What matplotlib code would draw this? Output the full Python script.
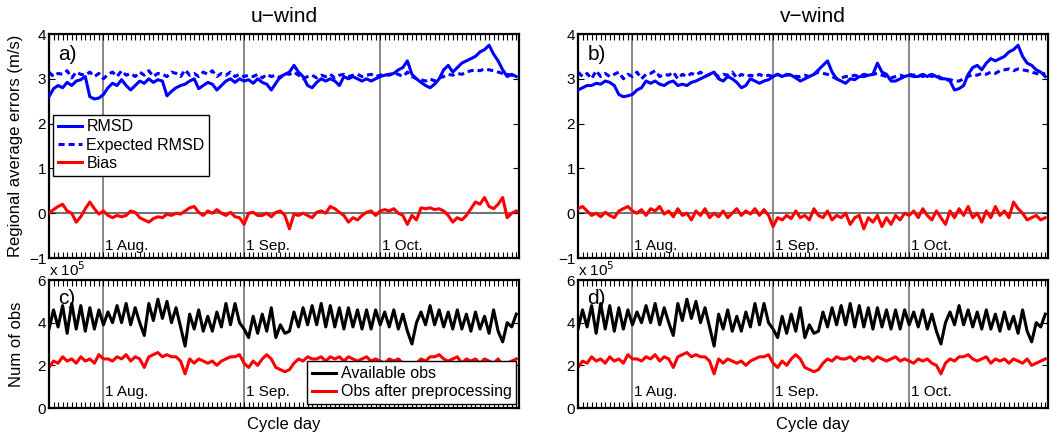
import numpy as np
import matplotlib
matplotlib.use('Agg')
import matplotlib.pyplot as plt
from matplotlib.ticker import MultipleLocator, NullLocator

plt.rcParams['font.family'] = ['Liberation Sans', 'DejaVu Sans']

# days since 20 Jul (one value per cycle day)
days = np.arange(104)
month_days = [12, 43, 73]
month_labels = ['1 Aug.', '1 Sep.', '1 Oct.']

# u-wind errors (m/s)
rmsd_u = [2.60, 2.78, 2.85, 2.80, 2.92, 2.85, 2.95, 2.98, 3.05, 2.60,
          2.55, 2.57, 2.65, 2.80, 2.90, 2.85, 2.98, 2.85, 2.75, 2.85,
          2.95, 2.90, 3.00, 2.92, 2.98, 2.95, 2.62, 2.72, 2.80, 2.85,
          2.88, 2.95, 3.00, 2.78, 2.85, 2.92, 2.88, 2.75, 2.85, 2.95,
          3.00, 2.92, 3.00, 2.95, 2.98, 2.90, 3.00, 2.92, 2.88, 2.75,
          2.90, 3.05, 3.10, 3.15, 3.30, 3.15, 3.05, 2.85, 2.80, 2.92,
          3.00, 2.95, 3.00, 2.95, 2.85, 3.05, 3.00, 3.05, 3.00, 2.95,
          3.00, 2.95, 3.00, 3.05, 3.08, 3.10, 3.12, 3.20, 3.25, 3.40,
          3.10, 3.00, 2.92, 2.85, 2.80, 2.88, 3.00, 3.20, 3.30, 3.15,
          3.25, 3.35, 3.40, 3.45, 3.50, 3.60, 3.65, 3.75, 3.55, 3.40,
          3.20, 3.05, 3.10, 3.05]
exp_rmsd_u = [3.15, 3.05, 3.12, 3.10, 3.18, 3.02, 3.15, 3.10, 3.08, 3.15,
              3.05, 3.12, 3.00, 3.10, 3.15, 3.05, 3.18, 3.08, 3.12, 3.05,
              3.15, 3.08, 3.18, 3.05, 3.12, 3.10, 3.05, 3.15, 3.12, 3.05,
              3.20, 3.08, 3.12, 3.05, 3.15, 3.10, 3.18, 3.05, 3.12, 3.08,
              3.15, 3.05, 3.10, 3.05, 3.08, 3.05, 3.10, 3.02, 3.10, 3.05,
              3.08, 3.02, 3.12, 3.10, 3.15, 3.08, 3.00, 3.05, 3.08, 3.02,
              3.08, 3.05, 3.10, 3.02, 3.08, 3.10, 3.05, 3.08, 3.10, 3.05,
              3.08, 3.10, 3.05, 3.08, 3.10, 3.08, 3.12, 3.10, 3.05, 3.15,
              3.05, 3.00, 2.98, 2.95, 3.00, 2.95, 3.02, 3.05, 3.10, 3.08,
              3.12, 3.10, 3.15, 3.18, 3.20, 3.18, 3.22, 3.20, 3.18, 3.15,
              3.12, 3.10, 3.08, 3.10]
bias_u = [0.00, 0.08, 0.15, 0.20, 0.05, 0.00, -0.20, -0.08, 0.10, 0.25,
          0.10, -0.02, 0.05, -0.05, -0.10, -0.05, -0.08, -0.05, 0.05, 0.02,
          -0.10, -0.15, -0.20, -0.12, -0.08, -0.10, -0.02, -0.05, 0.00, -0.02,
          0.05, 0.12, 0.15, 0.02, -0.05, 0.05, 0.00, 0.08, 0.00, -0.05,
          0.02, -0.08, -0.10, -0.25, 0.00, 0.02, -0.05, -0.05, 0.00, -0.08,
          0.02, 0.05, -0.05, -0.35, -0.02, -0.05, 0.00, -0.05, -0.10, 0.02,
          0.05, 0.00, 0.15, 0.10, 0.02, -0.05, -0.20, -0.10, -0.15, -0.05,
          0.02, 0.05, -0.05, 0.05, 0.08, 0.05, 0.10, 0.00, -0.05, -0.25,
          -0.05, -0.15, 0.12, 0.10, 0.12, 0.08, 0.10, 0.05, -0.05, -0.20,
          -0.10, -0.15, -0.05, 0.10, 0.25, 0.20, 0.35, 0.15, 0.10, 0.20,
          0.35, -0.10, 0.00, 0.05]

# v-wind errors (m/s)
rmsd_v = [2.75, 2.80, 2.85, 2.85, 2.90, 2.88, 2.95, 2.92, 2.85, 2.65,
          2.60, 2.62, 2.65, 2.75, 2.80, 2.95, 2.90, 2.95, 2.88, 2.85,
          2.92, 2.95, 2.85, 2.88, 2.85, 2.92, 2.95, 3.00, 3.05, 3.10,
          3.15, 3.00, 2.95, 3.05, 3.00, 2.92, 2.80, 2.85, 3.00, 2.95,
          2.90, 2.95, 2.98, 3.05, 3.10, 3.05, 3.10, 3.08, 3.02, 2.95,
          3.00, 3.05, 3.10, 3.20, 3.30, 3.40, 3.15, 3.00, 2.95, 2.90,
          3.00, 2.98, 3.05, 3.05, 3.08, 3.10, 3.35, 3.15, 3.10, 2.95,
          2.95, 3.00, 3.05, 3.08, 3.05, 3.05, 3.10, 3.05, 3.10, 3.05,
          3.00, 3.00, 2.95, 2.75, 2.78, 2.85, 3.10, 3.25, 3.30, 3.20,
          3.35, 3.45, 3.40, 3.45, 3.50, 3.60, 3.65, 3.75, 3.50, 3.35,
          3.30, 3.20, 3.15, 3.05]
exp_rmsd_v = [3.15, 3.05, 3.12, 3.00, 3.18, 3.05, 3.12, 3.05, 3.10, 3.15,
              3.00, 3.10, 3.05, 3.15, 3.00, 3.10, 3.12, 3.18, 3.05, 3.10,
              3.08, 3.15, 3.00, 3.10, 3.05, 3.12, 3.08, 3.15, 3.05, 3.10,
              3.12, 3.05, 3.10, 3.08, 3.15, 3.02, 3.10, 3.05, 3.08, 3.05,
              3.10, 3.05, 3.08, 3.05, 3.10, 3.05, 3.08, 3.10, 3.05, 3.05,
              3.08, 3.05, 3.10, 3.15, 3.12, 3.10, 3.05, 3.00, 3.02, 3.05,
              3.05, 3.08, 3.05, 3.10, 3.08, 3.10, 3.12, 3.08, 3.05, 3.02,
              3.05, 3.08, 3.05, 3.10, 3.08, 3.10, 3.05, 3.10, 3.05, 3.08,
              3.02, 3.00, 2.98, 2.95, 2.95, 3.00, 3.05, 3.10, 3.08, 3.12,
              3.10, 3.15, 3.12, 3.18, 3.20, 3.22, 3.18, 3.22, 3.20, 3.18,
              3.15, 3.12, 3.10, 3.12]
bias_v = [0.10, 0.15, 0.05, -0.05, 0.00, -0.08, 0.02, -0.05, -0.10, 0.05,
          0.10, 0.15, 0.05, 0.00, 0.08, -0.05, 0.10, 0.05, 0.15, -0.02,
          0.05, -0.08, 0.10, -0.05, 0.00, -0.15, 0.05, -0.05, 0.10, -0.10,
          0.00, -0.08, 0.05, -0.10, 0.00, 0.10, -0.05, 0.05, -0.02, 0.10,
          -0.05, 0.08, -0.05, -0.30, -0.10, -0.15, -0.05, -0.12, 0.05, -0.10,
          -0.05, -0.15, 0.10, -0.05, -0.10, 0.05, -0.15, -0.05, -0.10, 0.00,
          -0.25, -0.10, -0.05, -0.35, -0.10, -0.20, -0.05, -0.30, -0.10, -0.25,
          -0.05, -0.15, 0.00, -0.05, 0.05, -0.10, 0.10, -0.05, -0.15, 0.05,
          -0.10, -0.25, 0.05, -0.10, 0.10, -0.05, 0.15, -0.10, 0.00, -0.20,
          0.05, -0.10, 0.15, -0.05, 0.05, -0.10, 0.25, 0.10, 0.00, -0.15,
          -0.10, -0.05, -0.15, -0.10]

# number of observations, x 10^5
obs_avail = [3.7, 4.6, 3.8, 4.8, 3.5, 4.9, 3.7, 4.8, 3.6, 4.7, 3.7, 4.6,
             3.9, 4.5, 4.0, 4.8, 4.0, 4.9, 3.9, 4.7,
             4.0, 3.4, 4.9, 4.1, 5.1, 4.2, 5.0, 4.0, 4.7, 3.8,
             2.9, 4.4, 3.7, 4.6, 3.6, 4.3, 3.6, 4.5, 3.8, 4.9, 3.9, 4.9, 4.0,
             3.7, 3.3, 4.3, 3.5, 4.4, 3.6, 4.7, 3.3, 3.9, 3.5,
             3.6, 4.5, 3.8, 4.7, 3.9, 4.8, 3.9, 4.9, 3.8, 4.8,
             3.8, 4.7, 3.7, 4.7, 3.8, 4.6, 3.7, 4.6, 3.7, 4.6,
             3.9, 4.5, 3.8, 4.6, 3.7, 4.4, 3.6, 3.0, 4.0, 4.5,
             3.9, 4.8, 3.9, 4.6, 3.8, 4.5, 3.7, 4.6, 3.7, 4.4, 3.6,
             4.5, 3.7, 4.3, 3.5, 4.6, 3.6, 3.1, 4.0, 3.8, 4.4]
obs_used = [1.9, 2.2, 2.1, 2.4, 2.2, 2.3, 2.1, 2.4, 2.2, 2.3, 2.1, 2.5,
            2.3, 2.3, 2.2, 2.4, 2.3, 2.5, 2.2, 2.4,
            2.3, 1.9, 2.4, 2.5, 2.6, 2.4, 2.5, 2.4, 2.4, 2.2,
            1.6, 2.3, 2.1, 2.3, 2.2, 2.1, 2.2, 2.0, 2.2, 2.3, 2.4, 2.4, 2.5,
            2.1, 1.9, 2.2, 2.0, 2.3, 2.5, 2.3, 1.9, 1.8, 1.7,
            1.8, 2.1, 2.3, 2.2, 2.4, 2.3, 2.3, 2.4, 2.2, 2.4,
            2.3, 2.4, 2.2, 2.4, 2.3, 2.2, 2.3, 2.4, 2.2, 2.3,
            2.2, 2.1, 2.3, 2.2, 2.3, 2.1, 2.0, 1.6, 2.1, 2.3,
            2.2, 2.4, 2.4, 2.5, 2.3, 2.2, 2.3, 2.4, 2.1, 2.3, 2.2,
            2.3, 2.1, 2.3, 2.2, 2.1, 2.3, 2.0, 2.1, 2.2, 2.3]

XMAX = 103.6
W, H = 1051, 433


def frame(ax, ylim, yticks, label_y, show_labels=(True, True, True)):
    ax.set_xlim(0, XMAX)
    ax.set_ylim(*ylim)
    ax.set_yticks(yticks)
    ax.xaxis.set_major_locator(NullLocator())
    ax.xaxis.set_minor_locator(MultipleLocator(1))
    ax.tick_params(axis='x', which='minor', direction='in', top=True, bottom=True,
                   length=4, width=0.8)
    ax.tick_params(axis='y', which='major', direction='in', left=True, right=True,
                   length=4, width=0.8, labelsize=11, pad=2)
    for s in ax.spines.values():
        s.set_linewidth(1.6)
    for d, lab, show in zip(month_days, month_labels, show_labels):
        ax.axvline(d, color='0.45', lw=1.2, zorder=1)
        if show:
            ax.text(d + 0.4, label_y, lab, fontsize=11, va='center', ha='left')


def box_legend(ax, **kw):
    leg = ax.legend(fontsize=11.5, frameon=True, fancybox=False,
                    handlelength=1.5, borderpad=0.3, labelspacing=0.2,
                    handletextpad=0.3, borderaxespad=0, **kw)
    leg.get_frame().set_edgecolor('black')
    leg.get_frame().set_linewidth(1.0)
    leg.get_frame().set_alpha(1)
    leg.set_zorder(10)
    return leg


fig = plt.figure(figsize=(W / 100, H / 100), dpi=100)

lefts = [49 / W, 578 / W]
aw = 470 / W
top_box = (175 / H, 224 / H)
bot_box = (25 / H, 128 / H)

panels = [
    ('u\u2212wind', rmsd_u, exp_rmsd_u, bias_u, 'a)', 'c)'),
    ('v\u2212wind', rmsd_v, exp_rmsd_v, bias_v, 'b)', 'd)'),
]

for i, (title, rmsd, exp_rmsd, bias, lab_top, lab_bot) in enumerate(panels):
    ax1 = fig.add_axes([lefts[i], top_box[0], aw, top_box[1]])
    frame(ax1, (-1, 4), range(-1, 5), -0.73)
    ax1.axhline(0, color='0.45', lw=1.5, zorder=1)
    ax1.plot(days, rmsd, color='#0000ff', lw=2.2, label='RMSD', zorder=3)
    ax1.plot(days, exp_rmsd, color='#0000ff', lw=2.2, ls=(0, (2, 1.3)),
             label='Expected RMSD', zorder=2)
    ax1.plot(days, bias, color='#ff0000', lw=2.2, label='Bias', zorder=3)
    ax1.set_title(title, fontsize=15, pad=9)
    ax1.text(0.02, 0.95, lab_top, transform=ax1.transAxes, fontsize=15,
             va='top', ha='left')

    # the legend in panel c) hides the "1 Oct." label
    shown = (True, True, i == 1)
    ax2 = fig.add_axes([lefts[i], bot_box[0], aw, bot_box[1]])
    frame(ax2, (0, 6), range(0, 7, 2), 0.75, shown)
    ax2.plot(days, obs_avail, color='black', lw=2.2, label='Available obs')
    ax2.plot(days, obs_used, color='#ff0000', lw=2.2,
             label='Obs after preprocessing')
    ax2.set_xlabel('Cycle day', fontsize=12, labelpad=3)
    ax2.text(0.0, 1.01, 'x 10$^5$', transform=ax2.transAxes, fontsize=11,
             va='bottom', ha='left')
    ax2.text(0.02, 0.93, lab_bot, transform=ax2.transAxes, fontsize=15,
             va='top', ha='left')

    if i == 0:
        ax1.set_ylabel('Regional average errors (m/s)', fontsize=12, labelpad=4)
        ax2.set_ylabel('Num of obs', fontsize=12, labelpad=10)
        box_legend(ax1, loc='upper left', bbox_to_anchor=(0.008, 0.64))
        box_legend(ax2, loc='lower right', bbox_to_anchor=(0.994, 0.03))

fig.savefig('out.png', dpi=100)
